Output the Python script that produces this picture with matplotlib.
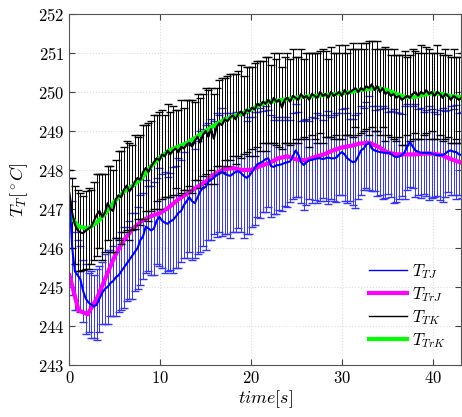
import numpy as np
import matplotlib
matplotlib.use("Agg")
import matplotlib.pyplot as plt

# measured T_TJ (blue) and T_TK (black), sampled every 0.3 s, with error half-widths
t_tj = [247.3, 246.0, 245.4, 245.3, 245.2, 244.9, 244.7, 244.6, 244.55, 244.5,
        244.55, 244.7, 244.85, 244.95, 245.0, 245.1, 245.15, 245.25, 245.3, 245.4,
        245.5, 245.6, 245.7, 245.8, 245.9, 246.0, 246.2, 246.3, 246.55, 246.5,
        246.45, 246.5, 246.7, 246.8, 246.7, 246.65, 246.62, 246.68, 246.72, 246.8,
        246.9, 246.95, 247.1, 247.2, 247.3, 247.2, 247.15, 247.3, 247.45, 247.55,
        247.56, 247.7, 247.75, 247.8, 247.87, 247.9, 247.95, 247.9, 247.87, 247.85,
        247.9, 247.95, 247.97, 247.92, 247.85, 247.8, 247.85, 247.95, 248.05, 248.15,
        248.18, 248.22, 248.28, 248.3, 248.1, 248.08, 248.12, 248.13, 248.15, 248.18,
        248.2, 248.22, 248.35, 248.5, 248.4, 248.2, 248.13, 248.2, 248.25, 248.26,
        248.28, 248.3, 248.3, 248.28, 248.3, 248.32, 248.3, 248.3, 248.32, 248.4,
        248.46, 248.4, 248.3, 248.25, 248.2, 248.22, 248.35, 248.5, 248.55, 248.65,
        248.7, 248.55, 248.5, 248.48, 248.46, 248.45, 248.44, 248.44, 248.42, 248.36,
        248.33, 248.35, 248.38, 248.45, 248.6, 248.72, 248.6, 248.5, 248.47, 248.44,
        248.44, 248.44, 248.44, 248.42, 248.4, 248.38, 248.38, 248.38, 248.42, 248.48,
        248.5, 248.47, 248.46, 248.4, 248.38]
err_tj = [0.5, 1.2, 1.0, 0.9, 0.85, 0.8, 0.9, 0.75, 0.85, 0.8,
          0.9, 0.85, 0.8, 0.9, 0.95, 0.85, 0.9, 1.0, 0.95, 1.0,
          1.05, 0.95, 1.0, 1.1, 1.0, 1.05, 1.15, 1.1, 1.2, 1.1,
          1.15, 1.2, 1.1, 1.25, 1.2, 1.3, 1.2, 1.25, 1.35, 1.3,
          1.4, 1.3, 1.35, 1.45, 1.4, 1.5, 1.4, 1.45, 1.55, 1.5,
          1.6, 1.5, 1.55, 1.45, 1.6, 1.5, 1.65, 1.55, 1.5, 1.6,
          1.5, 1.55, 1.45, 1.5, 1.6, 1.45, 1.5, 1.4, 1.45, 1.35,
          1.4, 1.3, 1.35, 1.25, 1.3, 1.2, 1.25, 1.15, 1.2, 1.1,
          1.15, 1.05, 1.1, 1.2, 1.1, 1.05, 1.15, 1.1, 1.0, 1.1,
          1.05, 1.15, 1.1, 1.0, 1.1, 1.2, 1.05, 1.1, 1.15, 1.05,
          1.1, 1.2, 1.15, 1.05, 1.1, 1.2, 1.1, 1.15, 1.05, 1.1,
          1.2, 1.1, 1.05, 1.15, 1.1, 1.2, 1.15, 1.05, 1.1, 1.2,
          1.15, 1.1, 1.05, 1.2, 1.1, 1.15, 1.05, 1.2, 1.1, 1.15,
          1.05, 1.1, 1.2, 1.15, 1.1, 1.05, 1.15, 1.2, 1.1, 1.05,
          1.15, 1.1, 1.2, 1.05, 1.1]
t_tk = [247.4, 246.9, 246.6, 246.45, 246.4, 246.38, 246.45, 246.5, 246.55, 246.7,
        246.85, 246.95, 246.8, 246.9, 247.15, 247.0, 246.95, 247.25, 247.35, 247.3,
        247.5, 247.6, 247.45, 247.55, 247.7, 247.8, 247.75, 247.95, 248.05, 247.95,
        248.1, 248.2, 248.3, 248.25, 248.4, 248.35, 248.5, 248.4, 248.5, 248.55,
        248.45, 248.6, 248.55, 248.65, 248.7, 248.6, 248.75, 248.85, 248.7, 248.9,
        249.0, 248.85, 249.05, 248.8, 249.1, 249.2, 249.15, 249.3, 249.25, 249.35,
        249.4, 249.3, 249.45, 249.5, 249.4, 249.55, 249.5, 249.6, 249.55, 249.7,
        249.65, 249.75, 249.7, 249.8, 249.7, 249.85, 249.75, 249.8, 249.6, 249.8,
        249.85, 249.75, 249.9, 249.85, 249.8, 249.95, 249.85, 249.9, 249.8, 249.95,
        249.9, 249.85, 250.0, 249.9, 249.95, 249.85, 250.0, 249.9, 249.95, 250.0,
        249.9, 250.05, 249.95, 250.0, 250.05, 250.1, 250.0, 250.1, 250.05, 250.15,
        250.1, 250.2, 250.05, 250.15, 250.0, 250.1, 249.95, 250.0, 249.9, 249.95,
        249.85, 249.9, 249.8, 249.85, 249.9, 249.85, 249.95, 250.0, 249.9, 250.0,
        249.95, 250.05, 249.95, 250.0, 249.9, 250.0, 249.95, 249.85, 249.95, 249.9,
        249.8, 249.9, 249.85, 249.8, 249.85]
err_tk = [0.6, 0.9, 1.0, 1.05, 1.0, 0.95, 1.0, 1.05, 0.95, 1.0,
          1.05, 0.95, 1.1, 1.0, 0.95, 1.1, 1.05, 1.0, 1.15, 1.2,
          1.1, 1.15, 1.25, 1.1, 1.2, 1.05, 1.15, 1.2, 1.1, 1.25,
          1.15, 1.2, 1.1, 1.25, 1.15, 1.05, 1.2, 1.1, 1.15, 1.0,
          1.1, 1.2, 1.05, 1.15, 1.1, 1.2, 1.0, 1.1, 1.15, 1.05,
          1.1, 1.2, 1.05, 1.15, 1.0, 1.1, 1.2, 1.05, 1.15, 1.1,
          1.05, 1.15, 1.1, 1.2, 1.0, 1.1, 1.15, 1.05, 1.2, 1.1,
          1.15, 1.05, 1.2, 1.1, 1.0, 1.15, 1.1, 1.2, 1.05, 1.1,
          1.15, 1.1, 1.2, 1.05, 1.1, 1.15, 1.0, 1.1, 1.2, 1.05,
          1.1, 1.15, 1.05, 1.2, 1.1, 1.0, 1.15, 1.1, 1.05, 1.2,
          1.1, 1.15, 1.05, 1.1, 1.2, 1.0, 1.1, 1.15, 1.05, 1.1,
          1.2, 1.1, 1.05, 1.15, 1.1, 1.0, 1.2, 1.1, 1.05, 1.15,
          1.1, 1.05, 1.15, 1.2, 1.0, 1.1, 1.15, 1.05, 1.1, 1.2,
          1.05, 1.1, 1.15, 1.0, 1.1, 1.2, 1.05, 1.1, 1.15, 1.05,
          1.1, 1.2, 1.05, 1.1, 1.15]
time_meas = np.arange(len(t_tj)) * 0.3

# smoothed T_TrJ (magenta) and T_TrK (green), every 1 s
time_tr = np.arange(44)
t_trj = [245.3, 244.4, 244.3, 244.7, 245.25, 245.8, 246.2, 246.5, 246.7, 246.82,
         246.9, 247.05, 247.25, 247.4, 247.55, 247.7, 247.9, 248.02, 248.05, 248.0,
         248.0, 248.1, 248.18, 248.3, 248.35, 248.27, 248.25, 248.33, 248.4, 248.5,
         248.58, 248.62, 248.68, 248.7, 248.6, 248.45, 248.4, 248.4, 248.4, 248.42,
         248.42, 248.38, 248.28, 248.2]
t_trk = [246.85, 246.55, 246.5, 246.65, 246.9, 247.2, 247.45, 247.6, 247.8, 248.1,
         248.33, 248.5, 248.6, 248.7, 248.85, 249.0, 249.15, 249.28, 249.38, 249.45,
         249.55, 249.68, 249.75, 249.78, 249.82, 249.86, 249.88, 249.9, 249.92, 249.94,
         249.97, 250.0, 250.05, 250.08, 250.1, 250.05, 249.95, 249.87, 249.87, 249.93,
         249.97, 249.95, 249.9, 249.87]

plt.rcParams["mathtext.fontset"] = "cm"
plt.rcParams["font.family"] = "serif"
plt.rcParams["font.serif"] = ["cmr10"]
plt.rcParams["axes.formatter.use_mathtext"] = True

fig = plt.figure(figsize=(4.62, 4.17), dpi=100)
ax = fig.add_axes([0.1504, 0.1247, 0.848, 0.8417])

eb1 = ax.errorbar(time_meas, t_tj, yerr=err_tj, color="b", lw=1.5,
                  elinewidth=0.7, capsize=3, capthick=1.0, ecolor="#3333ff")
l2, = ax.plot(time_tr, t_trj, color="#ff00ff", lw=3)
eb3 = ax.errorbar(time_meas, t_tk, yerr=err_tk, color="k", lw=1.5,
                  elinewidth=0.7, capsize=3, capthick=1.0, ecolor="k")
l4, = ax.plot(time_tr, t_trk, color="#00ff00", lw=3)

ax.set_xlim(0, 43.15)
ax.set_ylim(243, 252)
ax.set_xticks([0, 10, 20, 30, 40])
ax.set_yticks(range(243, 253))
ax.grid(True, ls=":", color="#dddddd", lw=0.8)
ax.tick_params(direction="in", top=True, right=True, labelsize=12, length=4,
               color="#444444")
for s in ax.spines.values():
    s.set_color("#555555")
ax.set_xlabel(r"$time[s]$", fontsize=13, labelpad=2)
ax.set_ylabel(r"$T_T[^\circ C]$", fontsize=13, labelpad=6)

ax.legend([eb1[0], l2, eb3[0], l4],
          [r"$T_{TJ}$", r"$T_{TrJ}$", r"$T_{TK}$", r"$T_{TrK}$"],
          loc="lower right", frameon=False, fontsize=12, handlelength=2.3,
          handletextpad=0.3, labelspacing=0.25, borderaxespad=0.5)
for h in ax.get_legend().legend_handles:
    if h.get_color() in ("b", "k"):
        h.set_linewidth(1.0)

fig.savefig("out.png", dpi=100)
